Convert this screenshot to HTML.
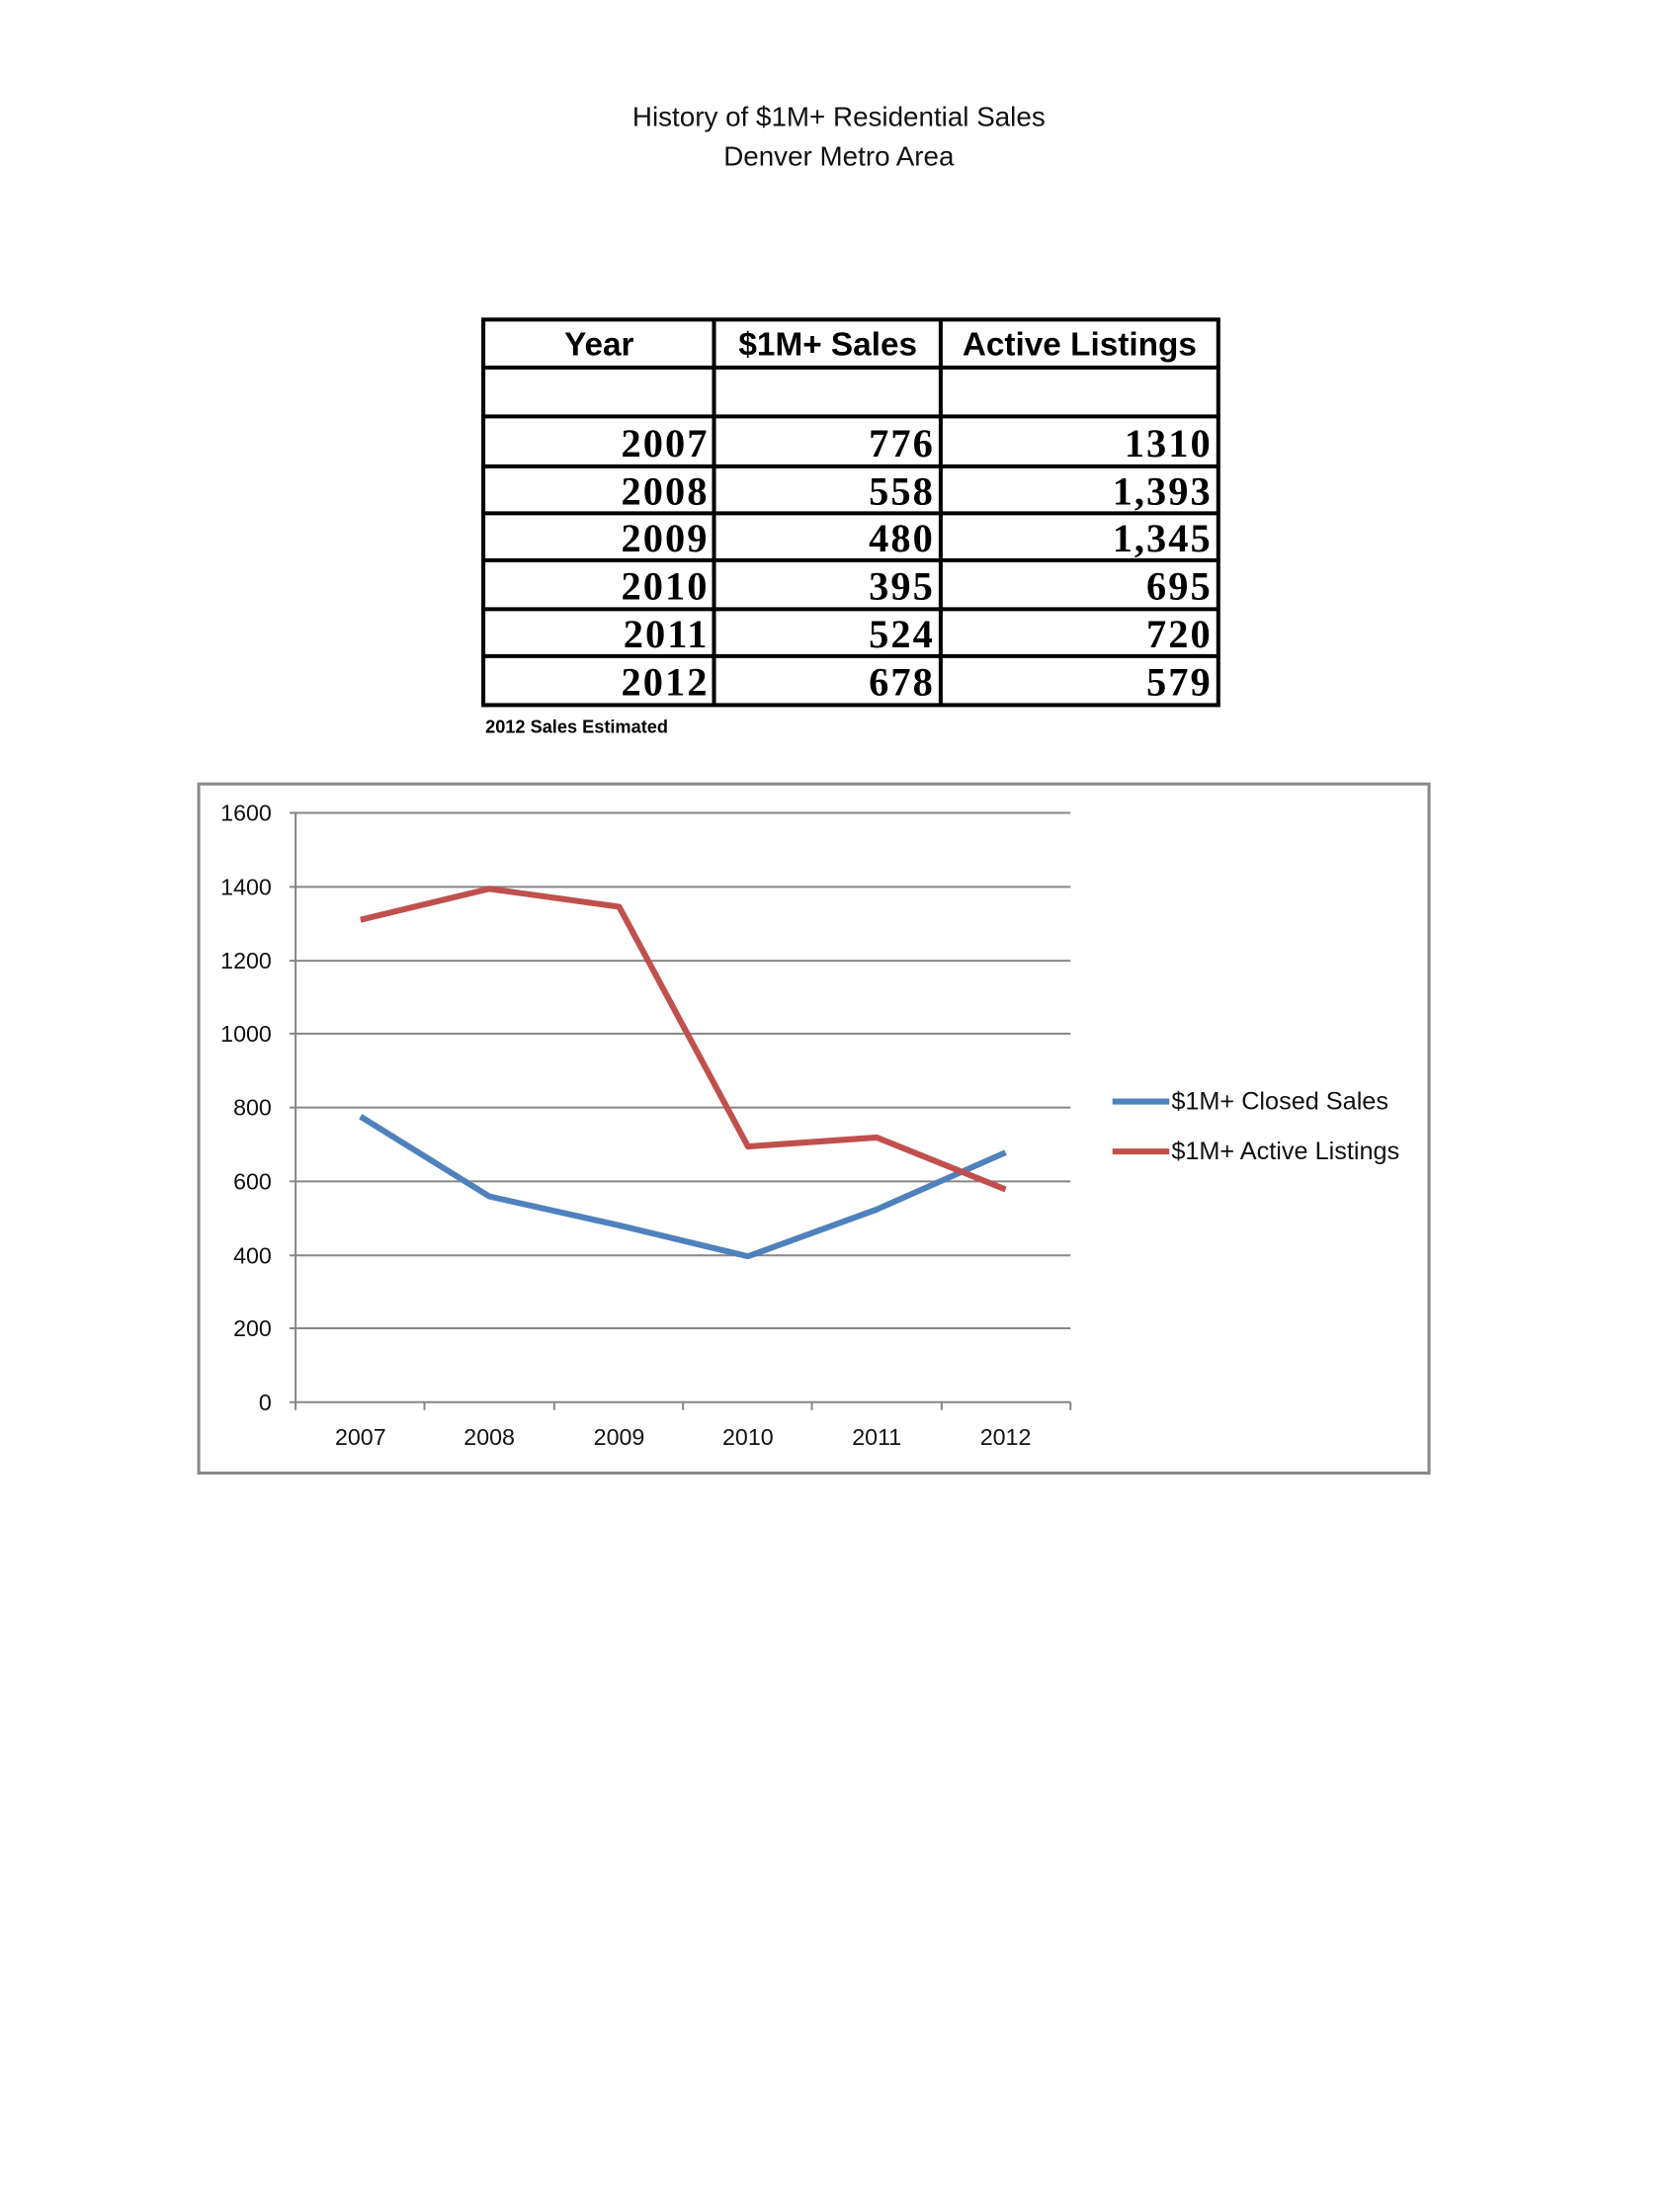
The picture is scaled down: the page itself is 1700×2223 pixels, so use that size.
<!DOCTYPE html>
<html><head><style>
body{margin:0;width:1700px;height:2200px;background:#fff;position:relative;font-family:"Liberation Sans",sans-serif;overflow:hidden;}
#w{position:absolute;left:0;top:0;width:1700px;height:2200px;transform:scale(1.0105);transform-origin:0 0;}
.t{position:absolute;left:0;width:1680px;text-align:center;font-size:27.5px;color:#111;}
</style></head><body><div id="w">
<div class="t" style="top:101px">History of $1M+ Residential Sales</div>
<div class="t" style="top:141px">Denver Metro Area</div>
<svg width="1700" height="2200" style="position:absolute;left:0;top:0">
<g stroke="#000" stroke-width="4" fill="none">
<rect x="484" y="320" width="736" height="386"/>
<line x1="715" y1="320" x2="715" y2="706"/><line x1="942" y1="320" x2="942" y2="706"/>
<line x1="484" y1="368" x2="1220" y2="368"/><line x1="484" y1="417" x2="1220" y2="417"/>
<line x1="484" y1="467" x2="1220" y2="467"/><line x1="484" y1="514" x2="1220" y2="514"/>
<line x1="484" y1="561" x2="1220" y2="561"/><line x1="484" y1="610" x2="1220" y2="610"/>
<line x1="484" y1="657" x2="1220" y2="657"/>
</g>
<g font-family="Liberation Sans Narrow, Liberation Sans, sans-serif" font-weight="bold" font-size="33" text-anchor="middle">
<text x="600" y="356">Year</text><text x="829" y="356">$1M+ Sales</text><text x="1081" y="356">Active Listings</text>
</g>
<g font-family="Liberation Serif, serif" font-weight="bold" font-size="40" letter-spacing="2" text-anchor="end">
<text x="710" y="457">2007</text><text x="936" y="457">776</text><text x="1214" y="457">1310</text>
<text x="710" y="505">2008</text><text x="936" y="505">558</text><text x="1214" y="505">1,393</text>
<text x="710" y="552">2009</text><text x="936" y="552">480</text><text x="1214" y="552">1,345</text>
<text x="710" y="600">2010</text><text x="936" y="600">395</text><text x="1214" y="600">695</text>
<text x="710" y="648">2011</text><text x="936" y="648">524</text><text x="1214" y="648">720</text>
<text x="710" y="696">2012</text><text x="936" y="696">678</text><text x="1214" y="696">579</text>
</g>
<text x="486" y="734" font-family="Liberation Sans Narrow, Liberation Sans, sans-serif" font-weight="bold" font-size="18">2012 Sales Estimated</text>
<rect x="199" y="785" width="1232" height="690" fill="none" stroke="#888" stroke-width="3"/>
<g stroke="#868686" stroke-width="2">
<line x1="290" y1="814" x2="1072" y2="814"/><line x1="290" y1="888" x2="1072" y2="888"/>
<line x1="290" y1="962" x2="1072" y2="962"/><line x1="290" y1="1035" x2="1072" y2="1035"/>
<line x1="290" y1="1109" x2="1072" y2="1109"/><line x1="290" y1="1183" x2="1072" y2="1183"/>
<line x1="290" y1="1257" x2="1072" y2="1257"/><line x1="290" y1="1330" x2="1072" y2="1330"/>
<line x1="290" y1="1404" x2="1072" y2="1404"/>
<line x1="296" y1="814" x2="296" y2="1404"/>
<line x1="296" y1="1404" x2="296" y2="1412"/><line x1="425" y1="1404" x2="425" y2="1412"/>
<line x1="555" y1="1404" x2="555" y2="1412"/><line x1="684" y1="1404" x2="684" y2="1412"/>
<line x1="813" y1="1404" x2="813" y2="1412"/><line x1="943" y1="1404" x2="943" y2="1412"/>
<line x1="1072" y1="1404" x2="1072" y2="1412"/>
</g>
<g font-size="23" fill="#111" text-anchor="end">
<text x="272" y="822">1600</text><text x="272" y="896">1400</text><text x="272" y="970">1200</text>
<text x="272" y="1043">1000</text><text x="272" y="1117">800</text><text x="272" y="1191">600</text>
<text x="272" y="1265">400</text><text x="272" y="1338">200</text><text x="272" y="1412">0</text>
</g>
<g font-size="23" fill="#111" text-anchor="middle">
<text x="361" y="1447">2007</text><text x="490" y="1447">2008</text><text x="620" y="1447">2009</text>
<text x="749" y="1447">2010</text><text x="878" y="1447">2011</text><text x="1007" y="1447">2012</text>
</g>
<polyline fill="none" stroke="#4F81BD" stroke-width="6" stroke-linejoin="round" points="361,1118 490,1198 620,1227 749,1258 878,1211 1007,1154"/>
<polyline fill="none" stroke="#C0504D" stroke-width="6" stroke-linejoin="round" points="361,921 490,890 620,908 749,1148 878,1139 1007,1191"/>
<line x1="1114" y1="1103" x2="1171" y2="1103" stroke="#4F81BD" stroke-width="6"/>
<line x1="1114" y1="1153" x2="1171" y2="1153" stroke="#C0504D" stroke-width="6"/>
<g font-size="25" fill="#111">
<text x="1173" y="1111">$1M+ Closed Sales</text><text x="1173" y="1161">$1M+ Active Listings</text>
</g>
</svg>
</div></body></html>
